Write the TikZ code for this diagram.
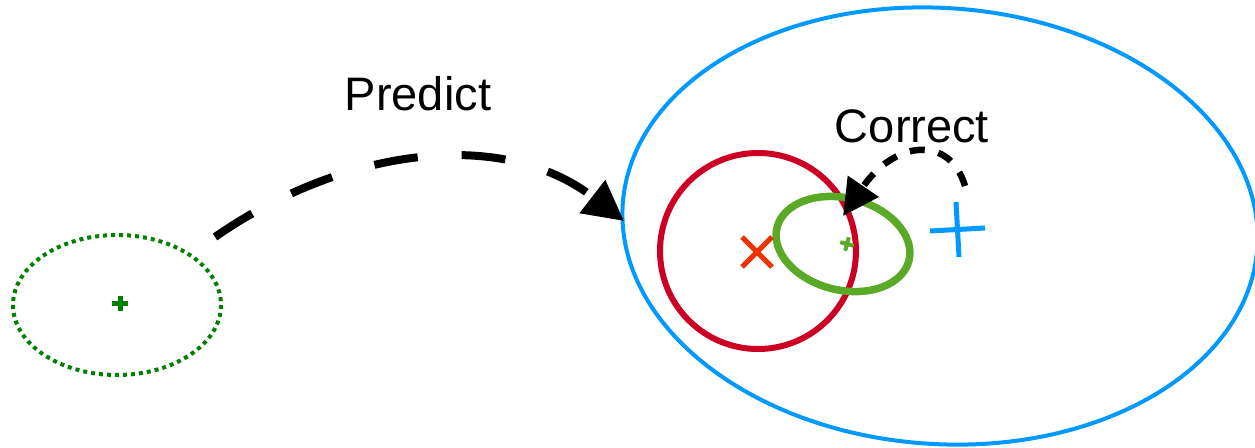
\documentclass[tikz,border=0pt]{standalone}
\usepackage{fontspec}
\setmainfont{Liberation Sans}
\usetikzlibrary{arrows.meta}
\definecolor{dkgreen}{RGB}{0,128,0}
\definecolor{skyblue}{RGB}{0,153,255}
\definecolor{crimsonr}{RGB}{204,0,34}
\definecolor{olivegr}{RGB}{90,170,40}
\definecolor{orred}{RGB}{238,51,0}
\tikzset{
  lbl/.style={font=\fontsize{47}{50}\selectfont, inner sep=0pt},
  bigarrow/.style={line width=8pt, dash pattern=on 44pt off 44pt, -{Triangle[length=40pt,width=40pt]}},
  smallarrow/.style={line width=6.5pt, dash pattern=on 15pt off 14pt, -{Triangle[length=36pt,width=36pt]}},
}
\begin{document}
\begin{tikzpicture}[x=1pt,y=-1pt]
\useasboundingbox (0,0) rectangle (1255,447);
% left dotted ellipse
\draw[dkgreen, line width=4pt, dash pattern=on 4pt off 4pt] (117,305) ellipse [x radius=104, y radius=70];
\draw[dkgreen, line width=5pt] (112,303) -- (128,303) (120,296) -- (120,311);
% big blue ellipse
\draw[skyblue, line width=4pt, rotate around={-4:(940,226)}] (940,226) ellipse [x radius=318, y radius=218];
% red circle
\draw[crimsonr, line width=6pt] (758,251) circle [radius=98];
% green ellipse
\draw[olivegr, line width=7.5pt, rotate around={-14:(843,244)}] (843,244) ellipse [x radius=68, y radius=46];
\draw[olivegr, line width=4pt, rotate around={-15:(847,244)}] (840,244) -- (854,244) (847,237) -- (847,251);
% red x
\draw[orred, line width=5pt] (742,237) -- (772,267) (742,267) -- (772,237);
% blue plus
\draw[skyblue, line width=5pt] (930,231) -- (985,228) (956,202) -- (959,257);
% labels
\node[lbl] (pred) at (418,94) {Predict};
\node[lbl] (corr) at (912,126) {Correct};
% arrows
\coordinate (p0) at (215,237);
\coordinate (p1) at (624,221);
\draw[bigarrow] (p0) .. controls (340,150) and (500,125) .. (p1);
\coordinate (c0) at (965,186);
\coordinate (c1) at (843,216);
\draw[smallarrow] (c0) .. controls (950,135) and (895,140) .. (c1);
\end{tikzpicture}
\end{document}
